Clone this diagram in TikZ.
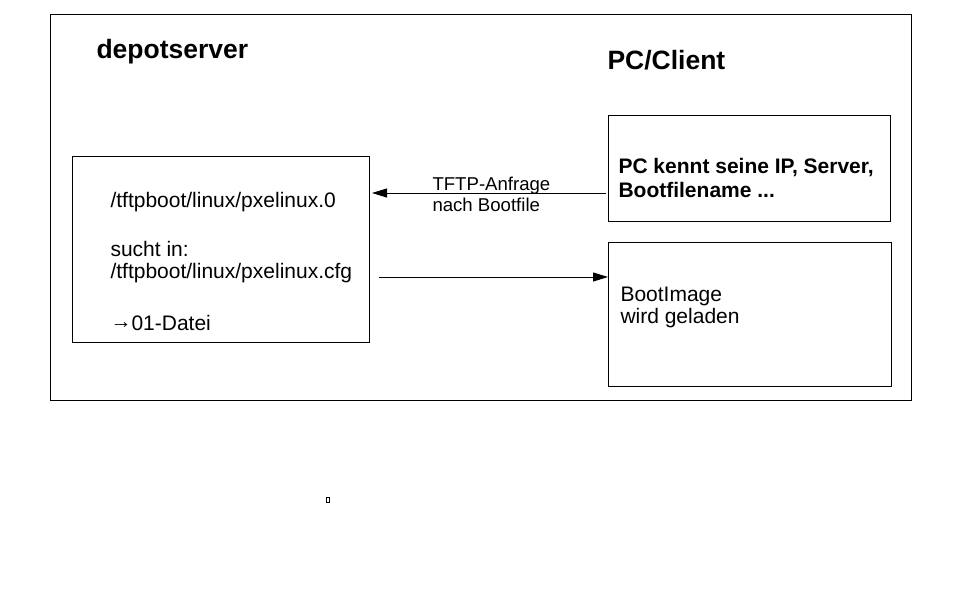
\documentclass[tikz,border=0pt]{standalone}
\usepackage{fontspec}
\setmainfont{Liberation Sans}
\usetikzlibrary{arrows.meta}

\begin{document}
\begin{tikzpicture}[x=1pt, y=-1pt, line width=1pt,
    >={Triangle[length=15pt, width=9pt]},
    box/.style={draw, inner sep=0pt, outer sep=0pt, anchor=north west},
    txt/.style={anchor=base west, inner sep=0pt, font=\fontsize{21}{24}\selectfont},
    boldtxt/.style={txt, font=\fontsize{21}{24}\selectfont\bfseries},
    title/.style={anchor=base west, inner sep=0pt, font=\fontsize{26.5}{30}\selectfont\bfseries},
    label/.style={anchor=base west, inner sep=0pt, font=\fontsize{18.6}{22}\selectfont}]

    % 1. Rahmen und Bildgroesse (1pt = 1 Pixel)
    \useasboundingbox (0,0) rectangle (960,600);
    \draw (50,14) rectangle (911,400);

    % 2. Ueberschriften
    \node[title] (depot) at (96,58) {depotserver};
    \node[title] (client) at (607,69) {PC/Client};

    % 3. Kaesten
    \node[box, minimum width=297pt, minimum height=186pt] (server) at (72,156) {};
    \node[box, minimum width=282pt, minimum height=106pt] (pcinfo) at (608,115) {};
    \node[box, minimum width=283pt, minimum height=144pt] (bootimg) at (608,242) {};

    % Text im Server-Kasten
    \node[txt] (pxe) at (110,207) {/tftpboot/linux/pxelinux.0};
    \node[txt] (sucht) at (110,256) {sucht in:};
    \node[txt] (cfg) at (110,278) {/tftpboot/linux/pxelinux.cfg};
    \node[txt] (datei) at (110,330) {\raisebox{1.5pt}{→}01-Datei};

    % Text in den Client-Kaesten
    \node[boldtxt] (kennt) at (618,173) {PC kennt seine IP, Server,};
    \node[boldtxt] (bootname) at (618,197) {Bootfilename ...};
    \node[txt] (bootimage) at (620,301) {BootImage};
    \node[txt] (geladen) at (620,323) {wird geladen};

    % 4. Pfeile
    \coordinate (anfrageStart) at (606,193);
    \coordinate (anfrageEnd) at (372,193);
    \draw[->] (anfrageStart) -- (anfrageEnd);
    \node[label] (tftp) at (432,190) {TFTP-Anfrage};
    \node[label] (nach) at (432,211) {nach Bootfile};

    \coordinate (ladenStart) at (379,277);
    \draw[->] (ladenStart) -- (bootimg.west |- ladenStart);

    % kleines Kaestchen unten
    \draw[line width=0.8pt] (326,497) rectangle (329,502);

\end{tikzpicture}
\end{document}
